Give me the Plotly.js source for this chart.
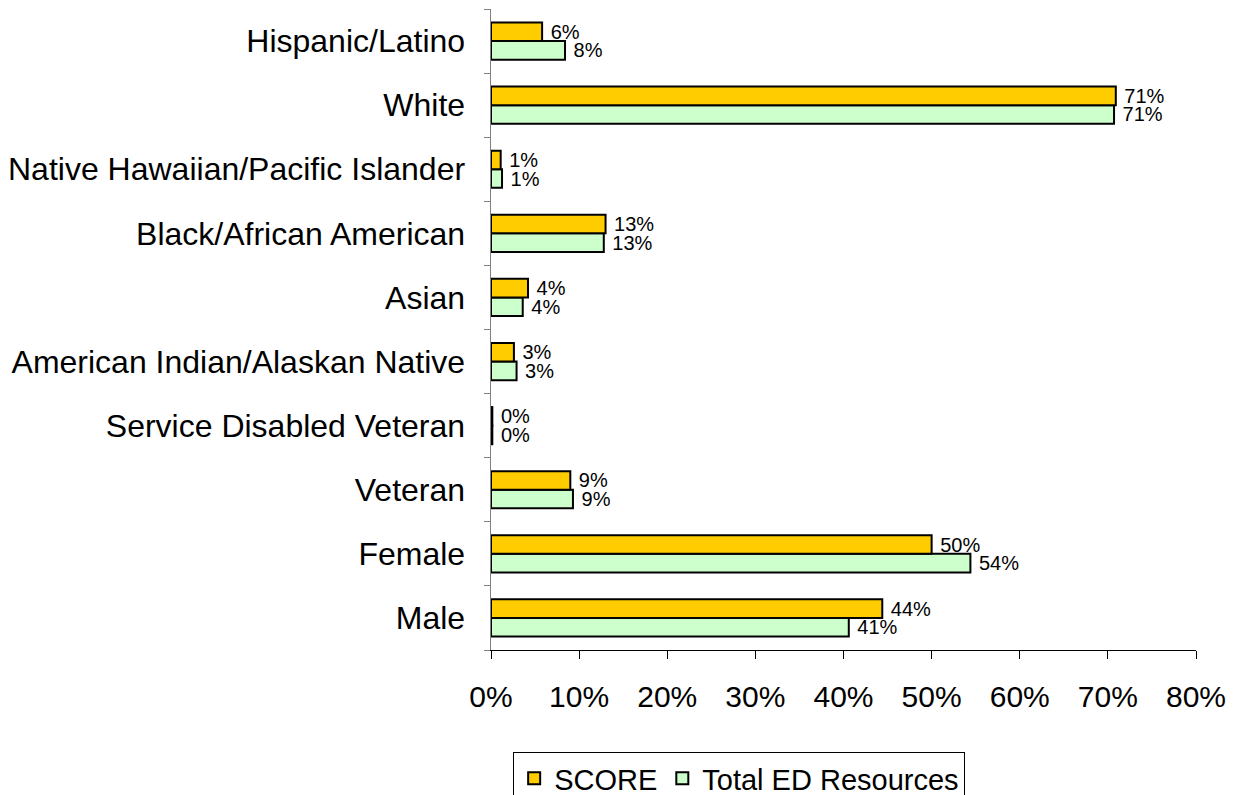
<!DOCTYPE html>
<html>
<head>
<meta charset="utf-8">
<script src="https://cdn.plot.ly/plotly-3.0.1.min.js"></script>
<style>
  html, body { margin: 0; padding: 0; background: #ffffff; }
  #chart { width: 1240px; height: 795px; }
</style>
</head>
<body>
<div id="chart"></div>
<script>
// Categories listed bottom to top
const categories = [
  'Male',
  'Female',
  'Veteran',
  'Service Disabled Veteran',
  'American Indian/Alaskan Native',
  'Asian',
  'Black/African American',
  'Native Hawaiian/Pacific Islander',
  'White',
  'Hispanic/Latino'
];
// Percent values
const scoreValues = [44.4, 50.0, 9.0, 0.15, 2.6, 4.2, 13.0, 1.1, 70.9, 5.8];
const totalEdValues = [40.6, 54.4, 9.3, 0.15, 2.9, 3.6, 12.8, 1.25, 70.7, 8.4];
const seriesNames = ['SCORE', 'Total ED Resources'];
const xTickValues = [0, 10, 20, 30, 40, 50, 60, 70, 80];
const xTickLabels = ['0%', '10%', '20%', '30%', '40%', '50%', '60%', '70%', '80%'];

const FONT = 'Arial, "Liberation Sans", sans-serif';

function barTrace(name, values, color) {
  return {
    type: 'bar',
    orientation: 'h',
    name: name,
    y: categories,
    x: values,
    marker: { color: color, line: { color: '#000000', width: 2 } },
    texttemplate: '\u00a0%{x:.0f}%',
    textposition: 'outside',
    constraintext: 'none',
    cliponaxis: false,
    textfont: { family: FONT, size: 20, color: '#000000' },
    hoverinfo: 'skip'
  };
}

const traceTotal = barTrace(seriesNames[1], totalEdValues, '#CCFFCC');
const traceScore = barTrace(seriesNames[0], scoreValues, '#FFCC00');

const layout = {
  width: 1240,
  height: 795,
  paper_bgcolor: '#ffffff',
  plot_bgcolor: '#ffffff',
  font: { family: FONT, color: '#000000' },
  margin: { l: 491, r: 44, t: 9, b: 145, pad: 0, autoexpand: false },
  barmode: 'group',
  bargap: 0.42,
  bargroupgap: 0,
  showlegend: true,
  legend: {
    orientation: 'h',
    traceorder: 'reversed',
    x: 0.352, xanchor: 'center',
    y: -0.159, yanchor: 'top',
    bordercolor: '#000000',
    borderwidth: 1,
    bgcolor: '#ffffff',
    font: { family: FONT, size: 29, color: '#000000' },
    itemwidth: 30
  },
  xaxis: {
    range: [0, 80],
    tickmode: 'array',
    tickvals: xTickValues,
    ticktext: xTickLabels,
    showgrid: false,
    zeroline: false,
    showline: true,
    linecolor: '#000000',
    linewidth: 1,
    ticks: 'outside',
    ticklen: 8,
    tickcolor: '#000000',
    ticklabelstandoff: 12,
    tickfont: { family: FONT, size: 30, color: '#000000' },
    fixedrange: true
  },
  yaxis: {
    type: 'category',
    categoryorder: 'array',
    categoryarray: categories,
    showgrid: false,
    zeroline: false,
    showline: true,
    linecolor: '#808080',
    linewidth: 1.5,
    ticks: 'outside',
    tickson: 'boundaries',
    ticklen: 6,
    tickcolor: '#808080',
    ticklabelstandoff: 18,
    tickfont: { family: FONT, size: 32, color: '#000000' },
    fixedrange: true
  }
};

Plotly.newPlot('chart', [traceTotal, traceScore], layout, { displayModeBar: false, staticPlot: true });
</script>
</body>
</html>
